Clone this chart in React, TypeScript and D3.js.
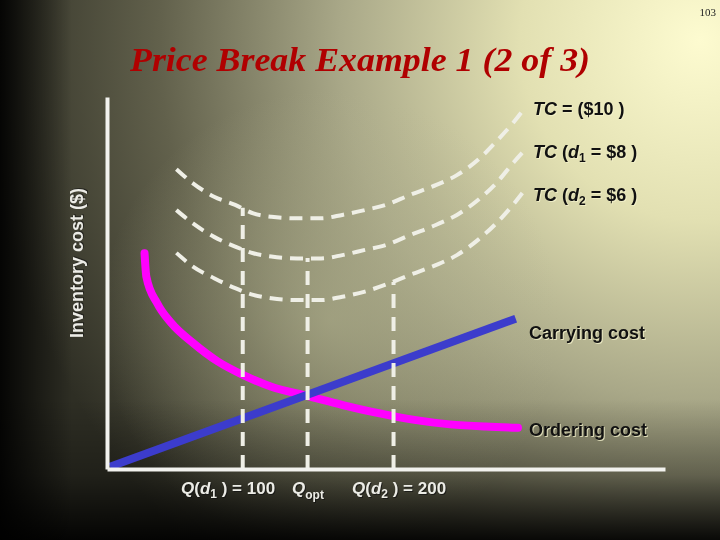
import React from 'react';
import * as d3 from 'd3';

const width = 720, height = 540;
const margin = { top: 97, right: 55, bottom: 71, left: 107 };

// total cost curves, order quantity vs cost
const tcQ = [56, 67, 81, 95, 107, 119, 136, 152, 166, 181, 195, 211, 228, 242, 256, 268, 280, 286];
const tc10 = [80.6, 76.8, 73.2, 71, 68.7, 67.8, 67.4, 67.4, 68.3, 69.6, 71, 73.7, 76.3, 79, 83.1, 88, 93.4, 96.5];
const tc8 = [69.6, 66.0, 62.4, 59.8, 58.0, 57.1, 56.6, 56.6, 57.5, 58.9, 60.2, 62.9, 65.6, 68.3, 72.3, 76.8, 82.6, 85.3];
const tc6 = [58.1, 54.4, 51.3, 48.6, 46.8, 45.9, 45.4, 45.4, 46.3, 47.7, 49.6, 52.2, 54.8, 57.5, 61.6, 66.0, 71.4, 74.5];

// ordering cost curve
const orderQ = [34.9, 36.1, 43.2, 52.7, 67, 83.5, 100.1, 119, 143.2, 166.4, 190.1, 213.8, 237.4, 261.1, 282.5];
const orderCost = [58, 51.7, 44.6, 39.2, 33.9, 28.9, 25.3, 22.1, 19.6, 17.2, 15, 13.2, 12, 11.4, 11.1];

// carrying cost line
const carryQ = [12, 281];
const carryCost = [0.6, 40.4];

// drop lines at the price breaks and the optimum
const dropQ = [100, 143, 200];
const dropTop = [70.2, 56.7, 50.3];

const tcLabels = ['$10', '$8', '$6'];

export default function App() {
    const xScale = d3.scaleLinear().domain([10, 380]).range([margin.left, width - margin.right]);
    const yScale = d3.scaleLinear().domain([0, 100]).range([height - margin.bottom, margin.top]);

    const line = d3.line<[number, number]>()
        .x(d => xScale(d[0]))
        .y(d => yScale(d[1]));
    const curve = d3.line<[number, number]>()
        .x(d => xScale(d[0]))
        .y(d => yScale(d[1]))
        .curve(d3.curveMonotoneX);

    const zip = (a: number[], b: number[]) => a.map((v, i) => [v, b[i]] as [number, number]);

    const xAxisRef = React.useRef<SVGGElement>(null);
    const yAxisRef = React.useRef<SVGGElement>(null);

    React.useEffect(() => {
        const xa = d3.axisBottom(xScale).tickValues([]).tickSizeOuter(0);
        const ya = d3.axisLeft(yScale).tickValues([]).tickSizeOuter(0);
        d3.select(xAxisRef.current).call(xa)
            .select('.domain').attr('stroke', '#f2f2ee').attr('stroke-width', 4);
        d3.select(yAxisRef.current).call(ya)
            .select('.domain').attr('stroke', '#f2f2ee').attr('stroke-width', 4);
    }, []);

    const bold = { fontFamily: 'Liberation Sans, Arial, sans-serif', fontWeight: 700, fontSize: 18 };
    const small = 12;

    // right hand label with light shadow
    const darkLabel = (y: number, content: React.ReactNode, x = 533, key?: string) => (
        <g key={key}>
            <text x={x + 1} y={y + 1} style={bold} fill="#f4f2cc" opacity={0.8}>{content}</text>
            <text x={x} y={y} style={bold} fill="#111">{content}</text>
        </g>
    );
    const lightLabel = (x: number, y: number, content: React.ReactNode) => (
        <g>
            <text x={x + 1} y={y + 1} style={{ ...bold, fontSize: 17 }} fill="#111" opacity={0.7}>{content}</text>
            <text x={x} y={y} style={{ ...bold, fontSize: 17 }} fill="#ecece6">{content}</text>
        </g>
    );

    const tcText = (i: number) => i === 0
        ? [<tspan key="a" fontStyle="italic">TC</tspan>, <tspan key="b"> = ({tcLabels[i]} )</tspan>]
        : [<tspan key="a" fontStyle="italic">TC</tspan>, <tspan key="b"> (</tspan>,
            <tspan key="c" fontStyle="italic">d</tspan>,
            <tspan key="d" fontSize={small} dy={4}>{i}</tspan>,
            <tspan key="e" dy={-4}> = {tcLabels[i]} )</tspan>];

    return (
        <svg width={width} height={height} style={{ position: 'fixed', left: 0, top: 0 }}>
            <defs>
                <radialGradient id="bg" gradientUnits="userSpaceOnUse" cx={700} cy={40} r={720}>
                    <stop offset="0" stopColor="#fdfbd0" />
                    <stop offset="0.25" stopColor="#e2e0b2" />
                    <stop offset="0.5" stopColor="#a9a888" />
                    <stop offset="0.75" stopColor="#62614c" />
                    <stop offset="1" stopColor="#2e2e24" />
                </radialGradient>
                <radialGradient id="glow" gradientUnits="userSpaceOnUse" cx={330} cy={320} r={230}>
                    <stop offset="0" stopColor="#b4b490" stopOpacity={0.6} />
                    <stop offset="1" stopColor="#b4b490" stopOpacity={0} />
                </radialGradient>
                <linearGradient id="bottomShade" x1="0" y1="0" x2="0" y2="1">
                    <stop offset="0.74" stopColor="#000" stopOpacity={0} />
                    <stop offset="0.88" stopColor="#000" stopOpacity={0.3} />
                    <stop offset="1" stopColor="#000" stopOpacity={0.92} />
                </linearGradient>
                <linearGradient id="leftShade" x1="0" y1="0" x2="1" y2="0">
                    <stop offset="0" stopColor="#000" stopOpacity={0.9} />
                    <stop offset="0.1" stopColor="#000" stopOpacity={0} />
                </linearGradient>
            </defs>
            <rect width={width} height={height} fill="url(#bg)" />
            <rect width={width} height={height} fill="url(#glow)" />
            <rect width={width} height={height} fill="url(#bottomShade)" />
            <rect width={width} height={height} fill="url(#leftShade)" />

            <text x={716} y={16} textAnchor="end" fontFamily="Liberation Serif, serif" fontSize={11} fill="#222">103</text>
            <text x={130} y={71} textLength={460} lengthAdjust="spacingAndGlyphs" fontFamily="Liberation Serif, Times New Roman, serif"
                fontWeight={700} fontStyle="italic" fontSize={34} fill="#b00000">Price Break Example 1 (2 of 3)</text>

            {/* total cost curves */}
            {[tc10, tc8, tc6].map((s, i) => (
                <path key={i} d={curve(zip(tcQ, s)) || ''} fill="none" stroke="#efefe6"
                    strokeWidth={4} strokeDasharray="13 8" />
            ))}

            <path d={curve(zip(orderQ, orderCost)) || ''} fill="none" stroke="#ff00ff" strokeWidth={8} strokeLinecap="round" />
            <path d={line(zip(carryQ, carryCost)) || ''} fill="none" stroke="#3c3ccc" strokeWidth={8} />

            {dropQ.map((q, i) => (
                <path key={i} d={line([[q, 0], [q, dropTop[i]]]) || ''} fill="none" stroke="#efefe6"
                    strokeWidth={4} strokeDasharray="14 9" />
            ))}

            <g ref={xAxisRef} transform={`translate(0,${height - margin.bottom})`} />
            <g ref={yAxisRef} transform={`translate(${margin.left},0)`} />

            {tcLabels.map((_, i) => darkLabel(115 + i * 43, tcText(i), 533, 'tc' + i))}
            {darkLabel(339, 'Carrying cost', 529)}
            {darkLabel(436, 'Ordering cost', 529)}

            {lightLabel(181, 494, [<tspan key="a" fontStyle="italic">Q</tspan>, <tspan key="b">(</tspan>,
                <tspan key="c" fontStyle="italic">d</tspan>, <tspan key="d" fontSize={small} dy={4}>1</tspan>,
                <tspan key="e" dy={-4}> ) = 100</tspan>])}
            {lightLabel(292, 494, [<tspan key="a" fontStyle="italic">Q</tspan>,
                <tspan key="b" fontSize={small} dy={5}>opt</tspan>])}
            {lightLabel(352, 494, [<tspan key="a" fontStyle="italic">Q</tspan>, <tspan key="b">(</tspan>,
                <tspan key="c" fontStyle="italic">d</tspan>, <tspan key="d" fontSize={small} dy={4}>2</tspan>,
                <tspan key="e" dy={-4}> ) = 200</tspan>])}

            <g transform="translate(83,263) rotate(-90)">
                <text x={1} y={1} textAnchor="middle" style={bold} fill="#111" opacity={0.6}>Inventory cost ($)</text>
                <text x={0} y={0} textAnchor="middle" style={bold} fill="#ecece6">Inventory cost ($)</text>
            </g>
        </svg>
    );
}
